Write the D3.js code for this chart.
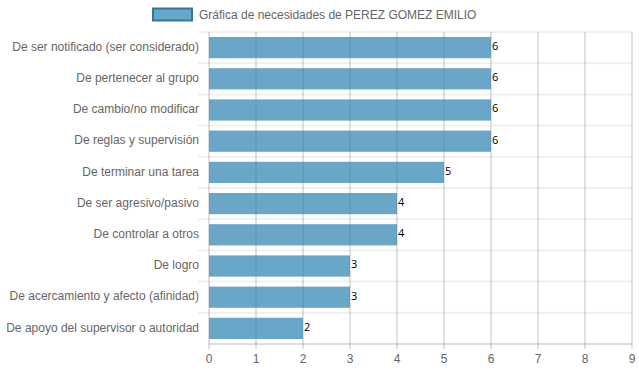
<!DOCTYPE html>
<html>
<head>
<meta charset="utf-8">
<script src="https://cdn.jsdelivr.net/npm/d3@7"></script>
<style>
  body { margin: 0; background: #fff; }
  svg text { font-family: "Liberation Sans", Arial, sans-serif; }
</style>
</head>
<body>
<script>
// Gráfica de necesidades

var categories = [
    "De ser notificado (ser considerado)",
    "De pertenecer al grupo",
    "De cambio/no modificar",
    "De reglas y supervisión",
    "De terminar una tarea",
    "De ser agresivo/pasivo",
    "De controlar a otros",
    "De logro",
    "De acercamiento y afecto (afinidad)",
    "De apoyo del supervisor o autoridad"
]
var values = [6, 6, 6, 6, 5, 4, 4, 3, 3, 2]
var xTicks = [0, 1, 2, 3, 4, 5, 6, 7, 8, 9]
var legendLabel = "Gráfica de necesidades de PEREZ GOMEZ EMILIO"

var width = 639, height = 372
var margin = { top: 32, right: 7, bottom: 28, left: 209 }

var svg = d3.select("body").append("svg")
    .attr("width", width)
    .attr("height", height)

var x = d3.scaleLinear()
    .domain([0, 9])
    .range([margin.left, width - margin.right])

var y = d3.scaleBand()
    .domain(categories)
    .range([margin.top, height - margin.bottom])
    .paddingInner(0.32)
    .paddingOuter(0.16)

var rowStep = (height - margin.bottom - margin.top) / categories.length

// Horizontal grid (category boundaries)
svg.append("g").selectAll("line")
    .data(d3.range(categories.length))
    .enter().append("line")
    .attr("x1", margin.left - 11)
    .attr("x2", x(9))
    .attr("y1", function(i) { return margin.top + i * rowStep })
    .attr("y2", function(i) { return margin.top + i * rowStep })
    .style("stroke", "rgba(0,0,0,0.06)")
    .style("stroke-width", 2)

// Vertical grid
svg.append("g").selectAll("line")
    .data(xTicks)
    .enter().append("line")
    .attr("x1", function(d) { return x(d) })
    .attr("x2", function(d) { return x(d) })
    .attr("y1", margin.top)
    .attr("y2", height - margin.bottom + 5)
    .style("stroke", function(d) { return d == 0 ? "rgba(0,0,0,0.25)" : "rgba(0,0,0,0.16)" })
    .style("stroke-width", function(d) { return d == 0 ? 1 : 1.5 })

// Bottom axis line
svg.append("line")
    .attr("x1", x(0))
    .attr("x2", x(9))
    .attr("y1", height - margin.bottom)
    .attr("y2", height - margin.bottom)
    .style("stroke", "rgba(0,0,0,0.25)")

// Bars
svg.append("g").selectAll("rect")
    .data(values)
    .enter().append("rect")
    .attr("x", x(0))
    .attr("y", function(d, i) { return y(categories[i]) })
    .attr("width", function(d) { return x(d) - x(0) })
    .attr("height", y.bandwidth())
    .style("fill", "rgba(41,128,176,0.7)")

// Value labels
svg.append("g").selectAll("text")
    .data(values)
    .enter().append("text")
    .attr("x", function(d) { return x(d) + 1 })
    .attr("y", function(d, i) { return y(categories[i]) + y.bandwidth() / 2 - 1.5 })
    .attr("dy", "0.35em")
    .style("font-family", "'Open Sans', sans-serif")
    .style("font-size", "11px")
    .style("fill", "#000")
    .text(function(d) { return d })

// Category labels
svg.append("g").selectAll("text")
    .data(categories)
    .enter().append("text")
    .attr("x", margin.left - 10)
    .attr("y", function(d) { return y(d) + y.bandwidth() / 2 - 1 })
    .attr("dy", "0.35em")
    .attr("text-anchor", "end")
    .style("font-size", "12px")
    .style("fill", "#666")
    .text(function(d) { return d })

// X tick labels
svg.append("g").selectAll("text")
    .data(xTicks)
    .enter().append("text")
    .attr("x", function(d) { return x(d) })
    .attr("y", height - margin.bottom + 19)
    .attr("text-anchor", "middle")
    .style("font-size", "12px")
    .style("fill", "#666")
    .text(function(d) { return d })

// Legend
svg.append("rect")
    .attr("x", 153)
    .attr("y", 8.5)
    .attr("width", 39)
    .attr("height", 12)
    .style("fill", "rgba(41,128,176,0.7)")
    .style("stroke", "#2c79a8")
    .style("stroke-width", 2)

svg.append("text")
    .attr("x", 199)
    .attr("y", 19)
    .style("font-size", "12px")
    .style("fill", "#666")
    .text(legendLabel)
</script>
</body>
</html>
